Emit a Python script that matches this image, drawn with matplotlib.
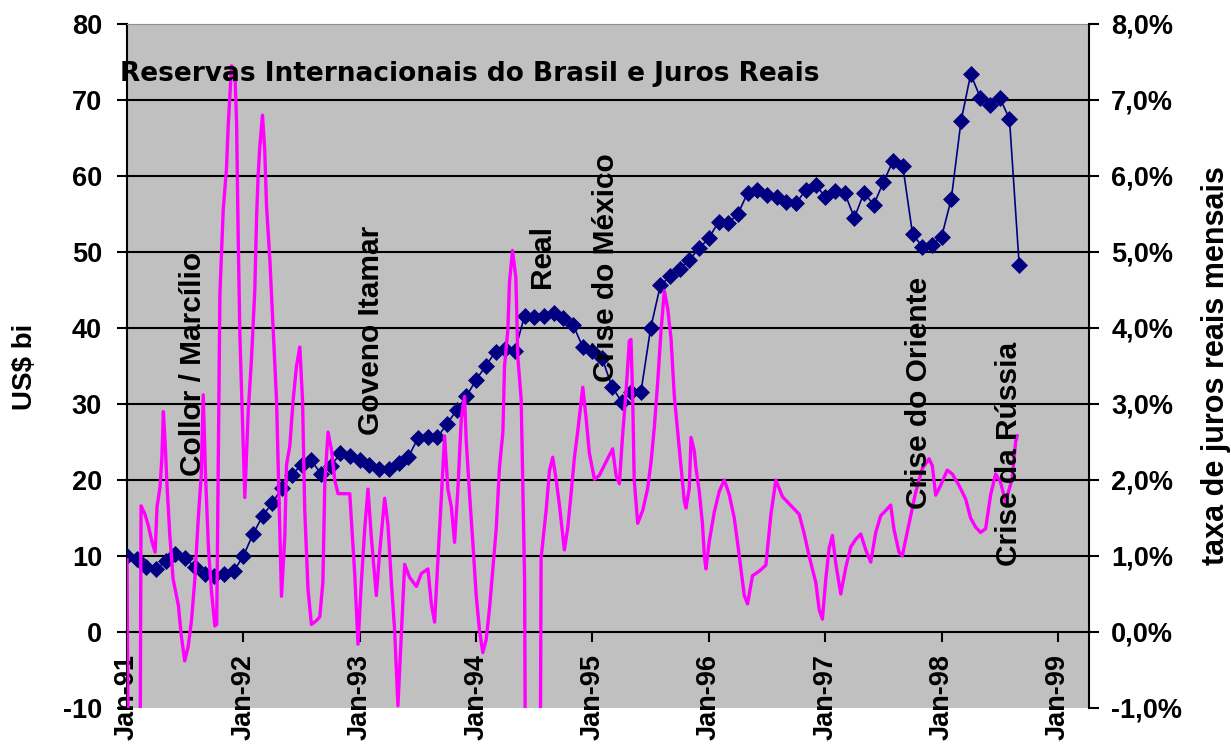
import matplotlib
matplotlib.use('Agg')
import matplotlib.pyplot as plt

# months counted from Jan-91
reservas_mes = list(range(93))
reservas = [10.0, 9.6, 8.6, 8.3, 9.3, 10.2, 9.8, 8.5, 7.6, 7.4, 7.6, 8.0,
            10.0, 12.9, 15.3, 17.0, 19.0, 20.7, 22.0, 22.6, 20.8, 21.8, 23.5, 23.2,
            22.6, 22.0, 21.4, 21.5, 22.3, 23.0, 25.5, 25.6, 25.6, 27.4, 29.2, 31.0,
            33.2, 35.0, 36.9, 37.3, 37.0, 41.6, 41.4, 41.6, 42.0, 41.3, 40.4, 37.5,
            37.0, 36.0, 32.3, 30.3, 31.6, 31.6, 40.0, 45.6, 46.8, 47.8, 49.0, 50.5,
            51.8, 54.0, 53.8, 55.0, 57.8, 58.2, 57.5, 57.3, 56.6, 56.4, 58.2, 58.8,
            57.3, 58.0, 57.8, 54.5, 57.8, 56.2, 59.2, 62.0, 61.3, 52.4, 50.7, 50.9,
            52.0, 57.0, 67.2, 73.4, 70.3, 69.4, 70.3, 67.5, 48.3]

juros_mes = [0.0, 0.12, 1.35, 1.45, 1.85, 2.2, 2.55, 2.9, 3.1, 3.4, 3.6, 3.75, 3.95, 4.1,
             4.4, 4.75, 5.3, 5.6, 5.95, 6.3, 6.65, 7.0, 7.35, 7.65, 7.86, 8.1, 8.4, 8.7,
             9.06, 9.25, 9.58, 9.92, 10.26, 10.43, 10.78, 11.12, 11.3, 11.46, 11.64, 11.98,
             12.15, 12.5, 12.84, 13.18, 13.36, 13.52, 13.7, 13.97, 14.2, 14.39, 14.73, 15.07,
             15.42, 15.69, 15.93, 16.27, 16.45, 16.79, 17.13, 17.48, 17.82, 18.1, 18.33,
             18.67, 19.02, 19.54, 19.88, 20.2, 20.4, 20.73, 21.08, 21.42, 21.76, 22.97,
             23.14, 23.48, 23.82, 24.17, 24.51, 24.85, 25.2, 25.71, 26.06, 26.57, 26.91,
             27.26, 27.6, 27.94, 28.29, 28.63, 29.14, 29.84, 30.35, 31.03, 31.38, 31.72,
             32.06, 32.41, 32.75, 33.09, 33.44, 33.78, 34.12, 34.47, 34.81, 34.98, 35.32,
             35.66, 36.01, 36.35, 36.69, 37.04, 37.38, 37.72, 38.07, 38.41, 38.76, 38.93,
             39.27, 39.44, 39.75, 40.1, 40.3, 40.65, 41.0, 41.15, 42.55, 42.7, 43.22, 43.56,
             43.9, 44.25, 44.6, 45.1, 45.45, 45.8, 46.14, 46.48, 47.0, 47.34, 47.68, 48.2,
             48.7, 49.4, 50.08, 50.43, 50.77, 51.1, 51.46, 51.8, 51.97, 52.15, 52.3, 52.66,
             53.18, 53.69, 54.04, 54.38, 54.72, 55.07, 55.41, 55.75, 56.1, 56.44, 56.78,
             57.13, 57.47, 57.64, 57.98, 58.16, 58.5, 58.67, 59.01, 59.35, 59.53, 59.7,
             60.04, 60.56, 61.07, 61.59, 62.1, 62.62, 63.13, 63.65, 63.99, 64.5, 65.19,
             65.88, 66.4, 66.91, 67.59, 69.31, 69.82, 70.34, 71.03, 71.37, 71.71, 72.06,
             72.4, 72.74, 73.09, 73.6, 74.12, 74.63, 75.15, 75.66, 76.18, 76.69, 77.21,
             77.72, 78.4, 78.75, 79.09, 79.61, 79.95, 80.3, 80.81, 81.33, 82.01, 82.7,
             83.04, 83.39, 83.9, 84.58, 85.1, 85.79, 86.48, 86.99, 87.51, 88.02, 88.54,
             89.05, 89.57, 90.08, 90.6, 91.28, 91.63, 91.8]
juros = [0.95, -1.6, -1.6, 1.66, 1.55, 1.4, 1.2, 1.05, 1.65, 1.9, 2.3, 2.9, 2.45, 2.0,
         1.3, 0.7, 0.35, -0.05, -0.38, -0.2, 0.15, 0.7, 1.5, 2.05, 3.12, 2.05, 1.1, 0.55,
         0.08, 0.1, 4.45, 5.55, 6.1, 6.65, 7.45, 7.4, 6.7, 5.25, 3.9, 2.5,
         1.77, 2.9, 3.6, 4.5, 5.45, 6.0, 6.4, 6.8, 6.35, 5.6, 4.9, 4.0,
         3.05, 1.7, 0.47, 1.25, 2.2, 2.45, 3.05, 3.5, 3.75, 3.05, 1.6,
         0.55, 0.1, 0.15, 0.2, 0.66, 1.97, 2.63, 2.4, 2.0, 1.82, 1.82,
         1.47, 0.77, -0.16, 0.66, 1.35, 1.88, 1.24, 0.48, 1.06, 1.76, 1.41,
         0.66, 0.02, -0.97, -0.04, 0.89, 0.72, 0.6, 0.77, 0.83, 0.37, 0.13,
         0.95, 1.76, 2.58, 1.88, 1.65, 1.18, 1.88, 2.8, 3.1, 2.52, 1.82,
         1.18, 0.48, 0.02, -0.27, -0.1, 0.31, 0.83, 1.35, 2.17, 2.63, 3.5,
         3.97, 4.6, 5.02, 4.66, 3.62, 3.05, 0.68, -4.0, -4.0, 0.97, 1.6, 2.12,
         2.3, 2.01, 1.66, 1.08, 1.37, 1.83, 2.3, 2.64, 3.22, 2.82, 2.35, 2.01,
         2.06, 2.24, 2.41, 2.06, 1.95, 2.58, 3.16, 3.83, 3.85, 3.05, 2.01, 1.43,
         1.6, 1.89, 2.24, 2.7, 3.28, 3.97, 4.49, 4.26, 3.86, 3.1, 2.64,
         2.18, 1.72, 1.63, 1.89, 2.56, 2.38, 2.16, 1.85, 1.41, 1.01, 0.83,
         1.19, 1.58, 1.85, 2.0, 1.81, 1.5, 1.01, 0.48, 0.37, 0.74, 0.8,
         0.88, 1.55, 2.0, 1.78, 1.55, 1.3, 1.0, 0.65, 0.3, 0.17, 0.7,
         1.1, 1.27, 0.9, 0.5, 0.85, 1.12, 1.22, 1.29, 1.08, 0.92, 1.31,
         1.53, 1.62, 1.67, 1.35, 1.05, 1.0, 1.22, 1.53, 1.84, 2.15, 2.28,
         2.19, 1.8, 1.93, 2.13, 2.08, 1.93, 1.75, 1.5, 1.38, 1.31, 1.36,
         1.8, 2.08, 1.97, 1.71, 2.02, 2.5, 2.58]

anos = ['Jan-91', 'Jan-92', 'Jan-93', 'Jan-94', 'Jan-95', 'Jan-96', 'Jan-97', 'Jan-98', 'Jan-99']
eventos = ['Collor / Marcílio', 'Goveno Itamar', 'Real', 'Crise do México',
           'Crise do Oriente', 'Crise da Rússia']
evento_px = [(193, 364), (371, 330), (542, 256), (606, 268), (919, 393), (1009, 454)]

W, H = 1231, 746
plt.rcParams['font.family'] = ['Liberation Sans', 'DejaVu Sans']
plt.rcParams['font.weight'] = 'bold'

fig = plt.figure(figsize=(W / 100, H / 100), dpi=100)
left, right, top, bottom = 127, 1089, 24, 708
ax = fig.add_axes([left / W, 1 - bottom / H, (right - left) / W, (bottom - top) / H])
ax.set_facecolor('#C0C0C0')
ax.set_xlim(0, 99.2)
ax.set_ylim(-10, 80)

for v in range(10, 80, 10):
    ax.axhline(v, color='black', lw=1.5, zorder=1)

ax.plot(reservas_mes, reservas, color='#000080', lw=1.2, marker='D', ms=8,
        mec='#000080', mfc='#000080', mew=0.5, zorder=3)

ax.spines['bottom'].set_position(('data', 0))
ax.spines['bottom'].set_linewidth(1.5)
ax.spines['left'].set_linewidth(1.5)
ax.spines['top'].set_color('#909090')
ax.spines['right'].set_visible(False)

ax.set_xticks(range(0, 97, 12))
ax.set_xticklabels(anos, rotation=90, fontsize=19.5, fontweight='bold')
ax.set_yticks(range(-10, 81, 10))
ax.set_yticklabels([str(v) for v in range(-10, 81, 10)], fontsize=19.5, fontweight='bold')
ax.tick_params(axis='x', direction='out', length=7, width=1.5, pad=9)
ax.tick_params(axis='y', direction='out', length=7, width=1.5, pad=11)

ax2 = ax.twinx()
ax2.set_ylim(-1, 8)
ax2.plot(juros_mes, juros, color='#FF00FF', lw=2.4, zorder=4)
for s in ['top', 'bottom', 'left']:
    ax2.spines[s].set_visible(False)
ax2.spines['right'].set_linewidth(1.5)
ax2.set_yticks(range(-1, 9))
ax2.set_yticklabels([f'{v},0%' for v in range(-1, 9)], fontsize=19.5, fontweight='bold')
ax2.tick_params(axis='y', direction='out', length=7, width=1.5, pad=9)

fig.text(120 / W, 1 - 74 / H, 'Reservas Internacionais do Brasil e Juros Reais',
         fontsize=19, fontweight='bold', family='DejaVu Sans', ha='left', va='center')
fig.text(25 / W, 1 - 367 / H, 'US$ bi', rotation=90, fontsize=20, fontweight='bold',
         ha='center', va='center')
fig.text(1216 / W, 1 - 366 / H, 'taxa de juros reais mensais', rotation=90, fontsize=22,
         fontweight='bold', ha='center', va='center')

for texto, (px, py) in zip(eventos, evento_px):
    fig.text(px / W, 1 - py / H, texto, rotation=90, fontsize=21.5, fontweight='bold',
             ha='center', va='center')

fig.savefig('out.png', dpi=100)
